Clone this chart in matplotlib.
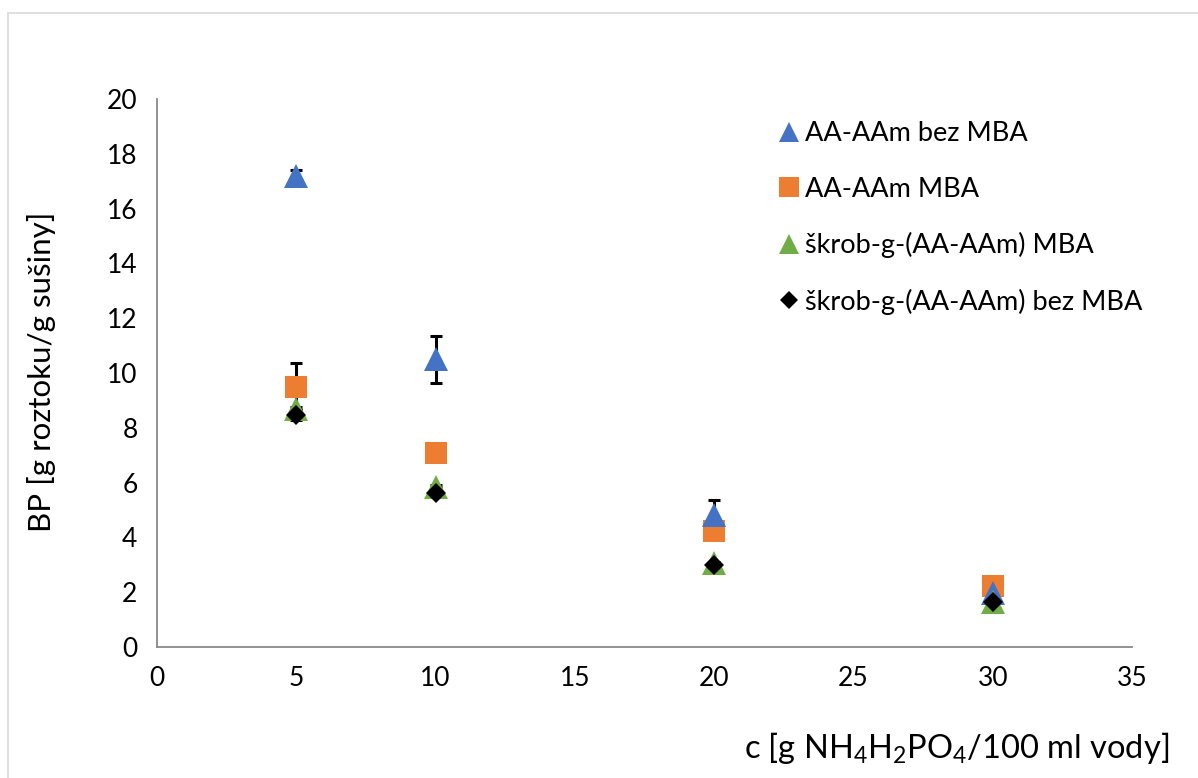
import matplotlib
matplotlib.use("Agg")
import matplotlib.pyplot as plt
from matplotlib.patches import Rectangle

plt.rcParams['font.family'] = ['Lato', 'DejaVu Sans']
plt.rcParams['mathtext.fontset'] = 'custom'
plt.rcParams['mathtext.rm'] = 'Lato'
plt.rcParams['mathtext.it'] = 'Lato:italic'
plt.rcParams['mathtext.bf'] = 'Lato:bold'

# concentration of NH4H2PO4 [g / 100 ml water]
conc = [5, 10, 20, 30]

# absorbency (BP) for each hydrogel and its standard deviation
aa_aam_bez = [17.2, 10.5, 4.8, 1.97]
aa_aam_bez_err = [0.2, 0.85, 0.55, 0.05]
aa_aam_mba = [9.5, 7.08, 4.23, 2.23]
aa_aam_mba_err = [0.85, 0.05, 0.05, 0.05]
skrob_mba = [8.7, 5.85, 3.05, 1.64]
skrob_mba_err = [0.05, 0.05, 0.05, 0.05]
skrob_bez = [8.47, 5.62, 3.0, 1.64]
skrob_bez_err = [0.17, 0.05, 0.05, 0.05]

labels = ["AA-AAm bez MBA", "AA-AAm MBA",
          "škrob-g-(AA-AAm) MBA", "škrob-g-(AA-AAm) bez MBA"]
colors = ["#4472C4", "#ED7D31", "#70AD47", "#000000"]

x_ticks = [0, 5, 10, 15, 20, 25, 30, 35]
y_ticks = [0, 2, 4, 6, 8, 10, 12, 14, 16, 18, 20]

fig = plt.figure(figsize=(11.98, 7.78), dpi=100)
fig.patches.append(Rectangle((8 / 1198, -0.01), 1.2, 1 - 13 / 778 + 0.01,
                             transform=fig.transFigure, fill=False,
                             edgecolor="#d9d9d9", linewidth=1.2))
ax = fig.add_axes([157 / 1198, 1 - 647 / 778, (1132 - 157) / 1198, (647 - 99) / 778])

series = [
    (aa_aam_bez, aa_aam_bez_err, "^", 17, 3),
    (aa_aam_mba, aa_aam_mba_err, "s", 16.5, 2),
    (skrob_mba, skrob_mba_err, "^", 17, 4),
    (skrob_bez, skrob_bez_err, "D", 10.5, 5),
]
handles = []
for (vals, err, mk, ms, z), lab, col in zip(series, labels, colors):
    ax.errorbar(conc, vals, yerr=err, fmt="none", ecolor="black",
                elinewidth=2.2, capsize=4.5, capthick=2.2, zorder=1.5)
    h, = ax.plot(conc, vals, linestyle="none", marker=mk, markersize=ms,
                 color=col, markeredgewidth=0, zorder=z, label=lab)
    handles.append(h)

ax.set_xlim(0, 35)
ax.set_ylim(0, 20)
ax.set_xticks(x_ticks)
ax.set_yticks(y_ticks)
ax.tick_params(axis="both", length=0, labelsize=19, colors="black", pad=14)
for s in ("top", "right"):
    ax.spines[s].set_visible(False)
for s in ("left", "bottom"):
    ax.spines[s].set_color("#898989")
    ax.spines[s].set_linewidth(1.3)

leg = ax.legend(handles=handles, loc="upper left",
                bbox_to_anchor=(598 / 975, 1 + 2 / 548), frameon=False,
                fontsize=19.5, handlelength=0.7, handletextpad=0.25,
                labelspacing=1.12, markerscale=0.85)

fig.text(42 / 1198, 1 - 372 / 778, "BP [g roztoku/g sušiny]", rotation=90,
         ha="center", va="center", fontsize=22.5)
fig.text(957 / 1198, 1 - 748 / 778, r"c [g NH$_4$H$_2$PO$_4$/100 ml vody]",
         ha="center", va="center", fontsize=23.5)

fig.savefig("out.png", dpi=100)
